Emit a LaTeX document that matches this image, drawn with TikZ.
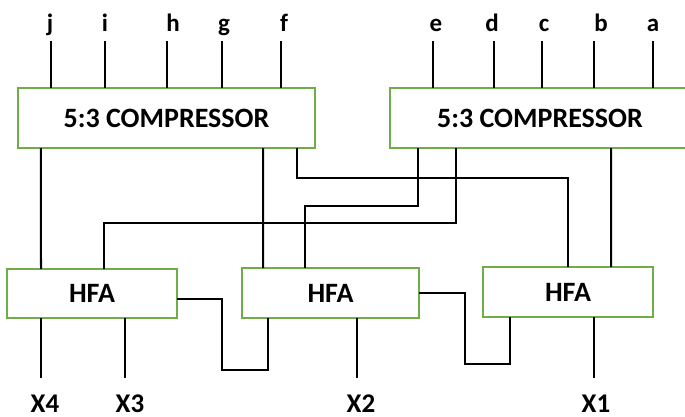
\documentclass[tikz,border=0pt]{standalone}
\usepackage{fontspec}
\setmainfont{Carlito}
\usepackage{tikz}
\usetikzlibrary{positioning}
\definecolor{boxgreen}{HTML}{70AD47}

\tikzset{
  box/.style={draw=boxgreen, line width=2.2bp, fill=white, inner sep=0pt, outer sep=0pt,
              font=\fontsize{28bp}{32bp}\selectfont\bfseries},
  wire/.style={line width=2bp, black},
  inlbl/.style={anchor=south, inner xsep=0pt, inner ysep=4.8bp, text height=18bp, text depth=5bp,
                font=\fontsize{25bp}{30bp}\selectfont\bfseries},
  outlbl/.style={anchor=north, inner xsep=0pt, inner ysep=16bp, text height=18bp, text depth=0pt,
                 font=\fontsize{27bp}{30bp}\selectfont\bfseries}
}

\begin{document}
\begin{tikzpicture}[x=1bp, y=-1bp]
    \clip (0,0) rectangle (685,416);

    % compressors
    \node[box, minimum width=297bp, minimum height=60bp] (cmpL) at (166.5,118) {5:3 COMPRESSOR};
    \node[box, minimum width=300bp, minimum height=60bp] (cmpR) at (540,118) {5:3 COMPRESSOR};

    % half adders
    \node[box, minimum width=170bp, minimum height=49bp] (hfa1) at (92,293.5) {HFA};
    \node[box, minimum width=177bp, minimum height=50bp] (hfa2) at (330.5,293) {HFA};
    \node[box, minimum width=170bp, minimum height=50bp] (hfa3) at (568,292) {HFA};

    % inputs
    \foreach \lab/\lx/\px in {j/50/51, i/105/105, h/173/167, g/224/222, f/284/281} {
      \node[inlbl] (in-\lab) at (\lx,41) {\lab};
      \draw[wire] (in-\lab.south -| \px,0) -- (cmpL.north -| \px,0);
    }
    \foreach \lab/\lx/\px in {e/436/433, d/492/494, c/544/542, b/601/594, a/653/653} {
      \node[inlbl] (in-\lab) at (\lx,41) {\lab};
      \draw[wire] (in-\lab.south -| \px,0) -- (cmpR.north -| \px,0);
    }

    % compressor outputs
    \draw[wire] ([xshift=23bp]cmpL.south west) -- ([xshift=34bp]hfa1.north west);
    \draw[wire] ([xshift=-52bp]cmpL.south east) -- ([xshift=21bp]hfa2.north west);
    \draw[wire] ([xshift=-18bp]cmpL.south east) -- ++(0,30) -| (hfa3.north);
    \draw[wire] ([xshift=28bp]cmpR.south west) -- ++(0,58) -| ([xshift=63bp]hfa2.north west);
    \draw[wire] ([xshift=66bp]cmpR.south west) -- ++(0,75) -| ([xshift=97bp]hfa1.north west);
    \draw[wire] ([xshift=221bp]cmpR.south west) -- ([xshift=128bp]hfa3.north west);

    % carries
    \draw[wire] ([yshift=-5.5bp]hfa1.east) -- ++(45,0) -- ++(0,71) -| ([xshift=26bp]hfa2.south west);
    \draw[wire] (hfa2.east) -- ++(46,0) -- ++(0,71) -| ([xshift=27bp]hfa3.south west);

    % outputs
    \foreach \nm/\src/\lx/\px in {X4/hfa1/45/41, X3/hfa1/130/125, X2/hfa2/361/357, X1/hfa3/596/594} {
      \node[outlbl] (\nm) at (\lx,378) {\nm};
      \draw[wire] (\src.south -| \px,0) -- (\nm.north -| \px,0);
    }
\end{tikzpicture}
\end{document}
